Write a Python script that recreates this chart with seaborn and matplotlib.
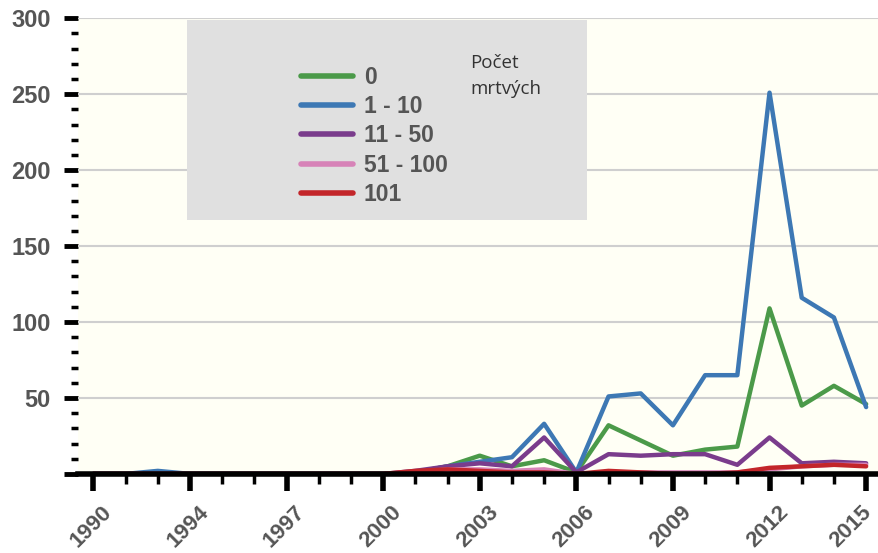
import matplotlib
matplotlib.use("Agg")
import matplotlib.pyplot as plt
import matplotlib.transforms as mtrans
from matplotlib.patches import Rectangle
from matplotlib.ticker import MultipleLocator
import pandas as pd
import seaborn as sns

# years on the axis (first tick is labelled 1990 in the source chart)
years = list(range(1991, 2016))
tick_pos = [1991, 1994, 1997, 2000, 2003, 2006, 2009, 2012, 2015]
tick_labels = ["1990", "1994", "1997", "2000", "2003", "2006", "2009", "2012", "2015"]

# number of events per year, by number of dead
dead_0 = [0, 0, 0, 0, 0, 0, 0, 0, 0, 0, 1, 5, 12, 5, 9, 1, 32, 22, 12, 16, 18, 109, 45, 58, 46]
dead_1_10 = [0, 0, 2, 0, 0, 0, 0, 0, 0, 0, 1, 5, 8, 11, 33, 1, 51, 53, 32, 65, 65, 251, 116, 103, 44]
dead_11_50 = [0, 0, 0, 0, 0, 0, 0, 0, 0, 0, 2, 5, 7, 5, 24, 1, 13, 12, 13, 13, 6, 24, 7, 8, 7]
dead_51_100 = [0, 0, 0, 0, 0, 0, 0, 0, 0, 0, 1, 3, 3, 2, 3, 0, 1, 1, 1, 1, 1, 3, 5, 6, 6]
dead_101 = [0, 0, 0, 0, 0, 0, 0, 0, 0, 0, 2, 3, 2, 1, 1, 0, 2, 1, 0, 0, 1, 4, 5, 6, 5]

groups = ["0", "1 - 10", "11 - 50", "51 - 100", "101"]
colors = ["#4b9a49", "#3d78b4", "#7a3c8c", "#d783b8", "#c3262a"]

df = pd.DataFrame({
    "rok": years * 5,
    "pocet": dead_0 + dead_1_10 + dead_11_50 + dead_51_100 + dead_101,
    "skupina": sum([[g] * len(years) for g in groups], []),
})

sns.set_style("white")
plt.rcParams["font.family"] = ["Liberation Sans", "DejaVu Sans"]

fig = plt.figure(figsize=(8.79, 5.53), dpi=100)
ax = fig.add_axes([0.089, 0.143, 0.911, 0.824])
ax.set_facecolor("#fffff5")

sns.lineplot(data=df, x="rok", y="pocet", hue="skupina", hue_order=groups,
             palette=dict(zip(groups, colors)), linewidth=3.2, legend=False, ax=ax, zorder=3)

ax.set_xlim(1990.53, 2015.4)
ax.set_ylim(0, 300)
ax.set_xlabel(None)
ax.set_ylabel(None)

# grid
for v in range(50, 301, 50):
    ax.axhline(v, color="#cfcfcf", linewidth=1.5, zorder=1)

# ticks
ax.set_xticks(tick_pos)
ax.set_xticklabels(tick_labels, rotation=45, ha="right", rotation_mode="anchor")
ax.xaxis.set_minor_locator(MultipleLocator(1))
ax.set_yticks(range(0, 301, 50))
ax.set_yticklabels(["", "50", "100", "150", "200", "250", "300"])
ax.yaxis.set_minor_locator(MultipleLocator(10))
ax.tick_params(axis="both", which="both", bottom=True, left=True, top=False, right=False)
ax.tick_params(axis="x", which="major", labelsize=16, pad=8, length=12, width=4)
ax.tick_params(axis="x", which="minor", length=7, width=2.5)
ax.tick_params(axis="y", which="major", labelsize=17, pad=10, length=10, width=3.5)
ax.tick_params(axis="y", which="minor", length=5, width=2.5)
ax.tick_params(axis="both", which="both", colors="black", direction="out")
ax.tick_params(axis="both", which="major", labelcolor="#555555")
xlabs = ax.get_xticklabels()
for i, lab in enumerate(xlabs):
    dx = 8 if i < len(xlabs) - 1 else -5
    lab.set_fontweight("bold")
    lab.set_transform(lab.get_transform() + mtrans.ScaledTranslation(dx / 100, 0, fig.dpi_scale_trans))
for lab in ax.get_yticklabels():
    lab.set_fontweight("bold")

for s in ["top", "right", "left"]:
    ax.spines[s].set_visible(False)
ax.spines["bottom"].set_color("black")
ax.spines["bottom"].set_linewidth(4)
ax.spines["bottom"].set_zorder(4)

# legend box
ax.add_patch(Rectangle((187 / 879, 1 - 220 / 553), 400 / 879, 200 / 553,
                       transform=fig.transFigure, facecolor="#e0e0e0",
                       edgecolor="none", zorder=2))
handles = [plt.Line2D([], [], color=c, linewidth=4) for c in colors]
leg = fig.legend(handles, groups, loc="upper left", bbox_to_anchor=(280 / 879, 1 - 45 / 553),
                 frameon=False, handlelength=2.3, labelspacing=0.28, handletextpad=0.45,
                 prop={"size": 16.5, "weight": "bold"})
for t in leg.get_texts():
    t.set_color("#555555")
fig.text(470 / 879, 1 - 54 / 553, "Počet\nmrtvých", fontsize=13.5, color="#333333",
         va="top", ha="left", linespacing=1.55, family=["Open Sans", "DejaVu Sans"])

fig.savefig("out.png", dpi=100)
